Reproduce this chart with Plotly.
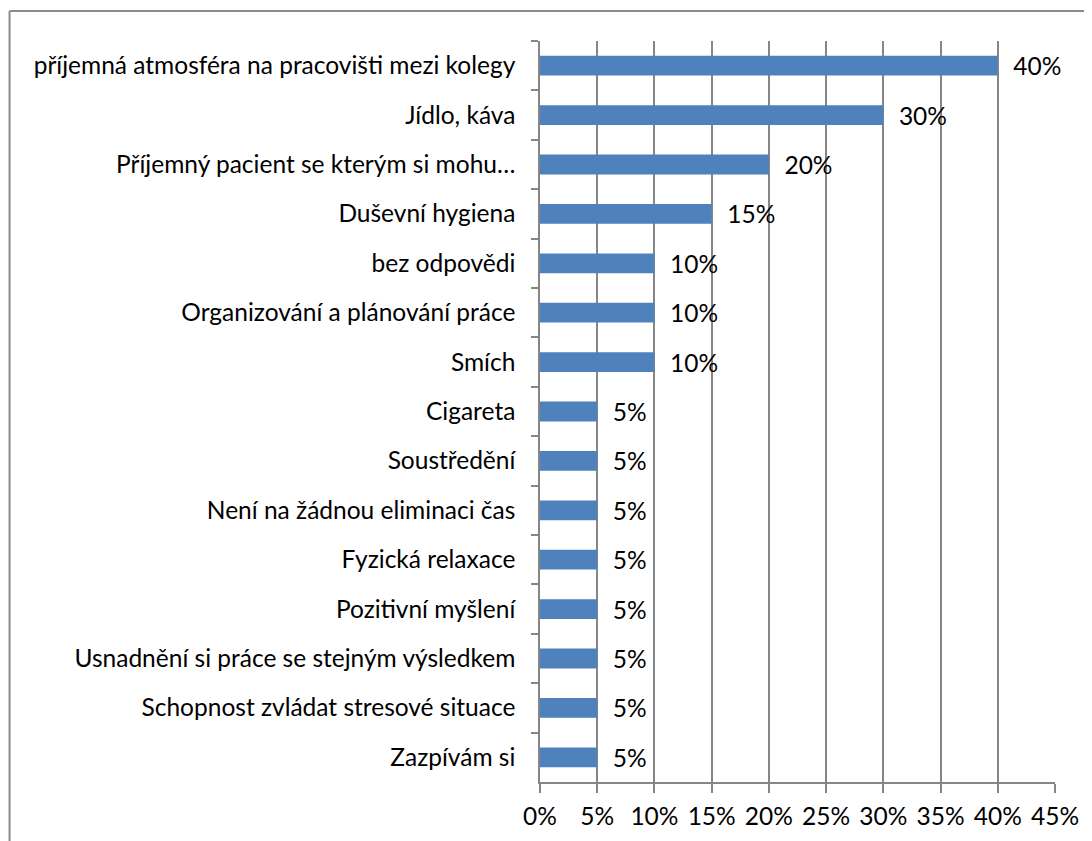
import plotly.graph_objects as go

# data, top to bottom as in the chart
categories = [
    "příjemná atmosféra na pracovišti mezi kolegy",
    "Jídlo, káva",
    "Příjemný pacient se kterým si mohu…",
    "Duševní hygiena",
    "bez odpovědi",
    "Organizování a plánování práce",
    "Smích",
    "Cigareta",
    "Soustředění",
    "Není na žádnou eliminaci čas",
    "Fyzická relaxace",
    "Pozitivní myšlení",
    "Usnadnění si práce se stejným výsledkem",
    "Schopnost zvládat stresové situace",
    "Zazpívám si",
]
values = [0.40, 0.30, 0.20, 0.15, 0.10, 0.10, 0.10, 0.05, 0.05, 0.05, 0.05, 0.05, 0.05, 0.05, 0.05]

FONT = "Lato, Carlito, Calibri, sans-serif"
GRID = "#868686"
FS = 24.5

fig = go.Figure(go.Bar(
    x=values,
    y=categories,
    orientation="h",
    marker=dict(color="#4F81BD", line=dict(width=0)),
    width=0.4,
    text=["  {:.0%}".format(v) for v in values],
    textposition="outside",
    constraintext="none",
    textfont=dict(family=FONT, size=FS, color="black"),
    cliponaxis=False,
))

# the page body adds an 8px offset, margins compensate for it
fig.update_layout(
    width=1092, height=841,
    margin=dict(l=532, r=45, t=33, b=67),
    paper_bgcolor="white", plot_bgcolor="white",
    font=dict(family=FONT, size=FS, color="black"),
    showlegend=False,
    xaxis=dict(
        range=[0, 0.45], dtick=0.05, tickformat=".0%",
        showgrid=True, gridcolor=GRID, gridwidth=1.5,
        zeroline=False, showline=True, linecolor=GRID, linewidth=1.5,
        ticks="outside", ticklen=9, tickcolor=GRID, tickwidth=1.5,
        ticklabelstandoff=3, automargin=False,
    ),
    yaxis=dict(
        autorange="reversed", showgrid=False, zeroline=False,
        showline=True, linecolor=GRID, linewidth=1.5,
        ticks="outside", ticklen=7, tickcolor=GRID, tickwidth=1.5,
        tickson="boundaries", ticklabelstandoff=18, automargin=False,
    ),
    shapes=[
        # outer chart frame (only top and left edges visible in the crop)
        dict(type="line", xref="paper", yref="paper", x0=-1.030, x1=1.1, y0=1.0405, y1=1.0405,
             line=dict(color="#8c8c8c", width=2)),
        dict(type="line", xref="paper", yref="paper", x0=-1.030, x1=-1.030, y0=1.0405, y1=-0.1,
             line=dict(color="#8c8c8c", width=2)),
    ],
)

fig.write_html("out.html")
